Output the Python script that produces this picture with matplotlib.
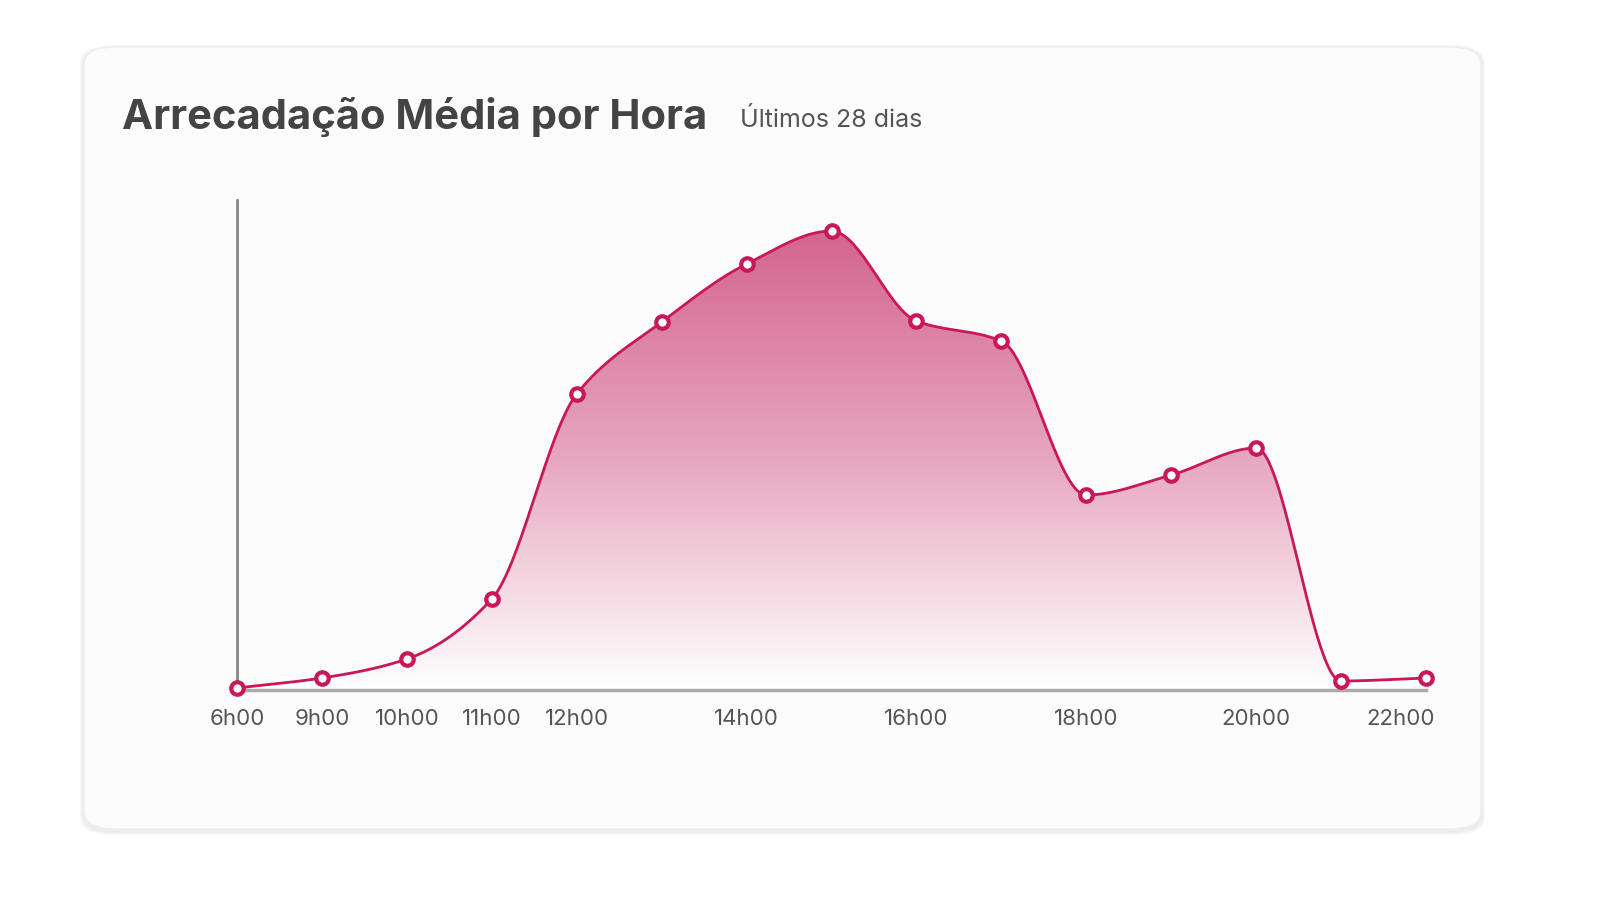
import numpy as np
import matplotlib
matplotlib.use("Agg")
import matplotlib.pyplot as plt
from matplotlib.patches import FancyBboxPatch, Polygon

# dados
valores = [2, 12, 31, 91, 296, 368, 426, 459, 369, 349, 195, 215, 242, 9, 12]
tick_pos = [0, 1, 2, 3, 4, 6, 8, 10, 12, 13.7]
tick_lab = ["6h00", "9h00", "10h00", "11h00", "12h00", "14h00", "16h00", "18h00", "20h00", "22h00"]

cor_linha = '#c8175a'

def pchip(x, y, xs):
    x = np.asarray(x, float); y = np.asarray(y, float)
    h = np.diff(x); d = np.diff(y) / h
    m = np.zeros_like(y)
    for k in range(1, len(y) - 1):
        if d[k-1] * d[k] > 0:
            w1 = 2*h[k] + h[k-1]; w2 = h[k] + 2*h[k-1]
            m[k] = (w1 + w2) / (w1/d[k-1] + w2/d[k])
    m[0] = d[0]; m[-1] = d[-1]
    idx = np.clip(np.searchsorted(x, xs) - 1, 0, len(x) - 2)
    t = (xs - x[idx]) / h[idx]
    h00 = 2*t**3 - 3*t**2 + 1; h10 = t**3 - 2*t**2 + t
    h01 = -2*t**3 + 3*t**2; h11 = t**3 - t**2
    return h00*y[idx] + h10*h[idx]*m[idx] + h01*y[idx+1] + h11*h[idx]*m[idx+1]

plt.rcParams['font.family'] = ['Inter', 'DejaVu Sans']

fig = plt.figure(figsize=(16, 9), dpi=100)
fig.patch.set_facecolor('white')

# cartao com sombra
for i in range(3):
    s = 4 - i
    fig.patches.append(FancyBboxPatch((84/1600 - s/1600, 71/900 - s/900 - 2/900), 1397/1600 + 2*s/1600, 782/900 + 2*s/900,
                                      boxstyle="round,pad=0,rounding_size=0.02", transform=fig.transFigure,
                                      fc='black', ec='none', alpha=0.025, zorder=-3))
fig.patches.append(FancyBboxPatch((84/1600, 71/900), 1397/1600, 782/900,
                                  boxstyle="round,pad=0,rounding_size=0.02", transform=fig.transFigure,
                                  fc='#fcfcfc', ec='#eeeeee', lw=1, zorder=-2))

fig.text(122/1600, 1 - 117/900, "Arrecadação Média por Hora", fontsize=30, fontweight='bold',
         color='#444444', va='center', ha='left')
fig.text(740/1600, 1 - 120/900, "Últimos 28 dias", fontsize=18, color='#555555', va='center', ha='left')

ax = fig.add_axes([237/1600, 210/900, (1426-237)/1600, 490/900])
ax.set_facecolor('none')
ax.set_xlim(0, 14)
ax.set_ylim(0, 490)

x = np.arange(len(valores))
xs = np.linspace(0, 14, 800)
ys = pchip(x, valores, xs)

grad = np.linspace(0, 1, 256).reshape(-1, 1)
cmap = matplotlib.colors.LinearSegmentedColormap.from_list("", ["#ffffff", "#e7a8bf", "#d4648c"])
img = ax.imshow(grad, extent=[0, 14, 0, 460], origin='lower', aspect='auto', cmap=cmap, zorder=1)
poly = Polygon(np.column_stack([np.r_[xs, 14, 0], np.r_[ys, 0, 0]]), closed=True, fc='none', ec='none',
               transform=ax.transData)
ax.add_patch(poly)
img.set_clip_path(poly)

ax.plot(xs, ys, color=cor_linha, lw=2, zorder=3)
ax.plot(x, valores, 'o', ms=9, mfc='white', mec=cor_linha, mew=3, zorder=4, clip_on=False)

for s in ['top', 'right']:
    ax.spines[s].set_visible(False)
ax.spines['left'].set_color('#888888')
ax.spines['left'].set_linewidth(2)
ax.spines['bottom'].set_color('#aaaaaa')
ax.spines['bottom'].set_linewidth(2.5)
ax.set_yticks([])
ax.set_xticks(tick_pos)
ax.set_xticklabels(tick_lab, fontsize=16, color='#555555')
ax.tick_params(axis='x', length=0, pad=14)

plt.savefig("out.png", dpi=100)
